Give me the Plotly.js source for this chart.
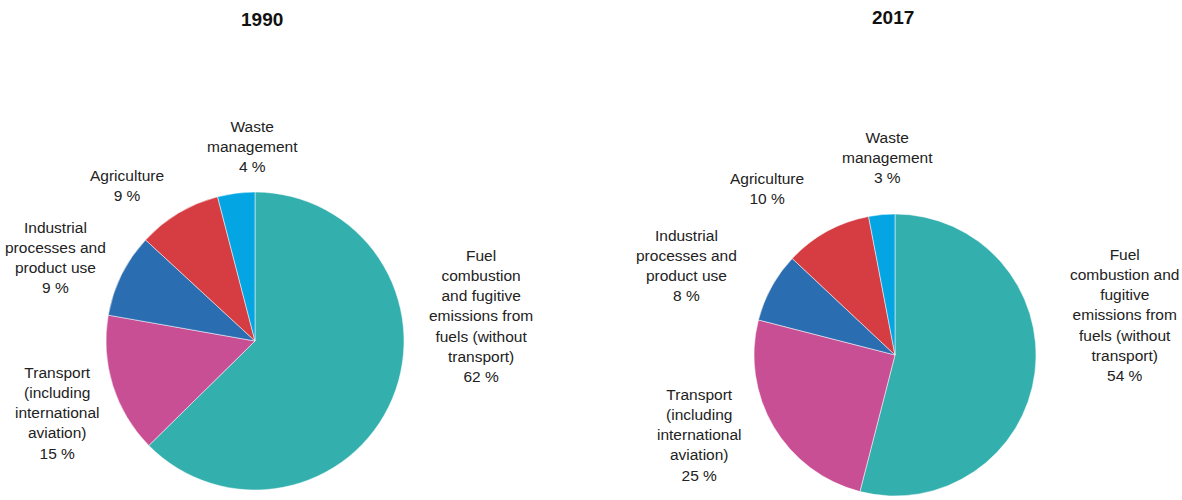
<!DOCTYPE html>
<html>
<head>
<meta charset="utf-8">
<script src="https://cdn.plot.ly/plotly-3.0.1.min.js"></script>
<style>html,body{margin:0;padding:0;background:#fff;}#chart{width:1182px;height:500px;}</style>
</head>
<body>
<div id="chart"></div>
<script>
// Data
const categories = ["Fuel combustion and fugitive emissions from fuels (without transport)", "Transport (including international aviation)", "Industrial processes and product use", "Agriculture", "Waste management"];
const values1990 = [62, 15, 9, 9, 4];
const values2017 = [54, 25, 8, 10, 3];
const labelLines1990 = ["Fuel<br>combustion<br>and fugitive<br>emissions from<br>fuels (without<br>transport)", "Transport<br>(including<br>international<br>aviation)", "Industrial<br>processes and<br>product use", "Agriculture", "Waste<br>management"];
const labelLines2017 = ["Fuel<br>combustion and<br>fugitive<br>emissions from<br>fuels (without<br>transport)", "Transport<br>(including<br>international<br>aviation)", "Industrial<br>processes and<br>product use", "Agriculture", "Waste<br>management"];
const years = ["1990", "2017"];
const colors = ["#33AFAE", "#C84F94", "#2B6DB1", "#D63D42", "#03A5E2"];

const W = 1182, H = 500;
const px = x => x / W;
const py = y => 1 - y / H;

// label anchor positions in pixels (layout only)
const pos1990 = [[481, 316], [57, 413], [55, 257], [127, 185], [252, 146]];
const pos2017 = [[1124, 315], [699, 435], [686, 265], [767, 188], [887, 157]];

function pieTrace(vals, dom) {
  return {
    type: "pie",
    labels: categories,
    values: vals,
    sort: false,
    direction: "clockwise",
    rotation: 0,
    textinfo: "none",
    hoverinfo: "label+percent",
    marker: {colors: colors, line: {color: "#ffffff", width: 0.5}},
    domain: dom,
    showlegend: false
  };
}

const data = [
  pieTrace(values1990, {x: [px(106), px(404)], y: [py(490), py(192)]}),
  pieTrace(values2017, {x: [px(754), px(1036)], y: [py(496), py(214)]})
];

const annotations = [];
const labelFont = {family: "Liberation Sans, Arial, sans-serif", size: 15.5, color: "#222222"};
function addLabels(lines, vals, pos) {
  vals.forEach((v, i) => {
    annotations.push({
      text: lines[i] + "<br>" + v + " %",
      x: px(pos[i][0]), y: py(pos[i][1]), xref: "paper", yref: "paper",
      xanchor: "center", yanchor: "middle", align: "center",
      showarrow: false, font: labelFont
    });
  });
}
addLabels(labelLines1990, values1990, pos1990);
addLabels(labelLines2017, values2017, pos2017);

const titleFont = {family: "Liberation Sans, Arial, sans-serif", size: 19, color: "#111111"};
annotations.push({text: "<b>" + years[0] + "</b>", x: px(262), y: py(19), xref: "paper", yref: "paper", xanchor: "center", yanchor: "middle", showarrow: false, font: titleFont});
annotations.push({text: "<b>" + years[1] + "</b>", x: px(893), y: py(17), xref: "paper", yref: "paper", xanchor: "center", yanchor: "middle", showarrow: false, font: titleFont});

const layout = {
  width: W, height: H,
  margin: {l: 0, r: 0, t: 0, b: 0},
  paper_bgcolor: "#ffffff",
  plot_bgcolor: "#ffffff",
  annotations: annotations,
  showlegend: false
};

Plotly.newPlot("chart", data, layout, {displayModeBar: false, staticPlot: true});
</script>
</body>
</html>
